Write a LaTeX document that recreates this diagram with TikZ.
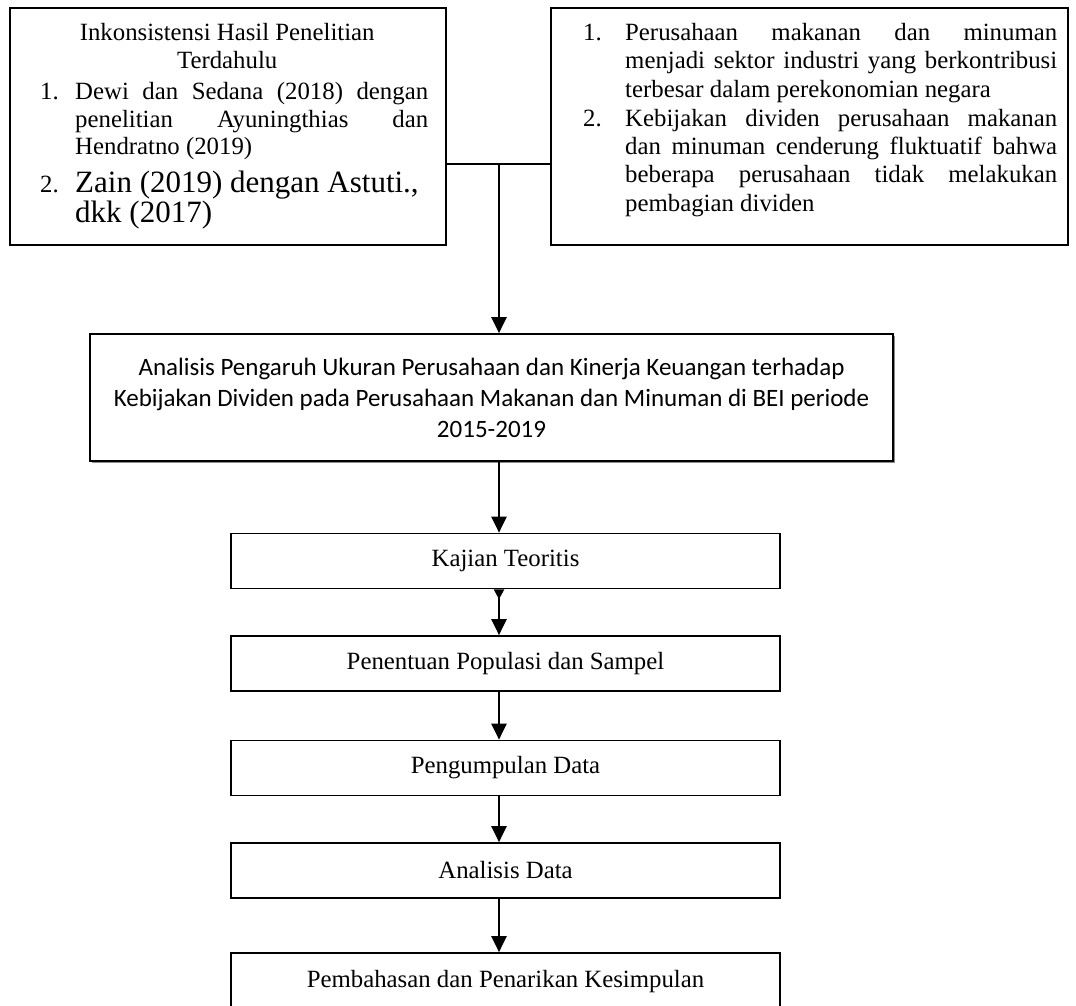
\documentclass[tikz,border=0pt]{standalone}
\usepackage{fontspec}
\setmainfont{Liberation Serif}
\newfontfamily\calfont{Carlito}
\usetikzlibrary{arrows.meta,shadows}
\newcommand\tnr{\fontsize{24.8}{28}\selectfont}
\newcommand\tnrbig{\fontsize{31}{36}\selectfont}
\begin{document}
\begin{tikzpicture}[x=1pt,y={(0pt,-1pt)},
  box/.style={draw=black,line width=1.7pt,rectangle,inner sep=0pt},
  flow/.style={box,minimum width=549pt,minimum height=55pt,font=\tnr},
  arr/.style={line width=2.2pt,-{Triangle[width=15pt,length=16pt]}},
  conn/.style={line width=2pt},
  txt/.style={anchor=base west,inner sep=0pt}]
\useasboundingbox (0,0) rectangle (1076,1006);

% top boxes
\node[box,minimum width=436pt,minimum height=237pt] (L) at (228,126.5) {};
\node[box,minimum width=517pt,minimum height=237pt] (R) at (809.5,126.5) {};

\node[txt] (Lt) at (40,41) {\tnr\vtop{\hsize=388pt \baselineskip=0pt \lineskip=0pt \lineskiplimit=-1000pt
  \hbox to\hsize{\hfil Inkonsistensi Hasil Penelitian\hfil\hskip14pt}
  \kern28pt
  \hbox to\hsize{\hfil Terdahulu\hfil\hskip14pt}
  \kern31pt
  \hbox to\hsize{\hbox to35pt{1.\hfil}Dewi dan Sedana (2018) dengan}
  \kern28pt
  \hbox to\hsize{\hskip35pt penelitian Ayuningthias dan}
  \kern27pt
  \hbox to\hsize{\hskip35pt Hendratno (2019)\hfil}
  \kern38pt
  \hbox to\hsize{\hbox to35pt{2.\hfil}{\tnrbig Zain (2019) dengan Astuti.,}\hfil}
  \kern30pt
  \hbox to\hsize{\hskip35pt {\tnrbig dkk (2017)}\hfil}
}};

\node[txt] (Rt) at (583,41) {\tnr\vtop{\hsize=474pt \baselineskip=0pt \lineskip=0pt \lineskiplimit=-1000pt
  \hbox to\hsize{\hbox to42pt{1.\hfil}Perusahaan makanan dan minuman}
  \kern28pt
  \hbox to\hsize{\hskip42pt menjadi sektor industri yang berkontribusi}
  \kern29pt
  \hbox to\hsize{\hskip42pt terbesar dalam perekonomian negara\hfil}
  \kern29pt
  \hbox to\hsize{\hbox to42pt{2.\hfil}Kebijakan dividen perusahaan makanan}
  \kern28pt
  \hbox to\hsize{\hskip42pt dan minuman cenderung fluktuatif bahwa}
  \kern28pt
  \hbox to\hsize{\hskip42pt beberapa perusahaan tidak melakukan}
  \kern29pt
  \hbox to\hsize{\hskip42pt pembagian dividen\hfil}
}};

% main box
\node[box,fill=white,drop shadow={shadow xshift=2pt,shadow yshift=-2pt,fill=black!45,opacity=1},
  minimum width=803pt,minimum height=127pt,align=center,
  font=\calfont\fontsize{25}{31}\selectfont] (M) at (491.5,397.5)
  {Analisis Pengaruh Ukuran Perusahaan dan Kinerja Keuangan terhadap\\
   Kebijakan Dividen pada Perusahaan Makanan dan Minuman di BEI periode\\
   2015-2019};

% flow boxes
\node[flow] (K) at (505.5,561) {Kajian Teoritis};
\node[flow] (P) at (505.5,663.5) {Penentuan Populasi dan Sampel};
\node[flow] (G) at (505.5,768) {Pengumpulan Data};
\node[flow] (A) at (505.5,870.5) {Analisis Data};
\node[flow,minimum height=58pt] (S) at (505.5,982) {Pembahasan dan Penarikan Kesimpulan};

% connectors
\coordinate (J) at (499,164);
\draw[conn] (L.east |- J) -- (R.west |- J);
\draw[arr] (J) -- (M.north -| J);
\draw[arr] (M.south -| J) -- (K.north -| J);
\draw[line width=2.2pt,{Triangle[reversed,width=10pt,length=10pt]}-{Triangle[width=15pt,length=16pt]}] (K.south -| J) -- (P.north -| J);
\draw[arr] (P.south -| J) -- (G.north -| J);
\draw[arr] (G.south -| J) -- (A.north -| J);
\draw[arr] (A.south -| J) -- (S.north -| J);
\end{tikzpicture}
\end{document}
